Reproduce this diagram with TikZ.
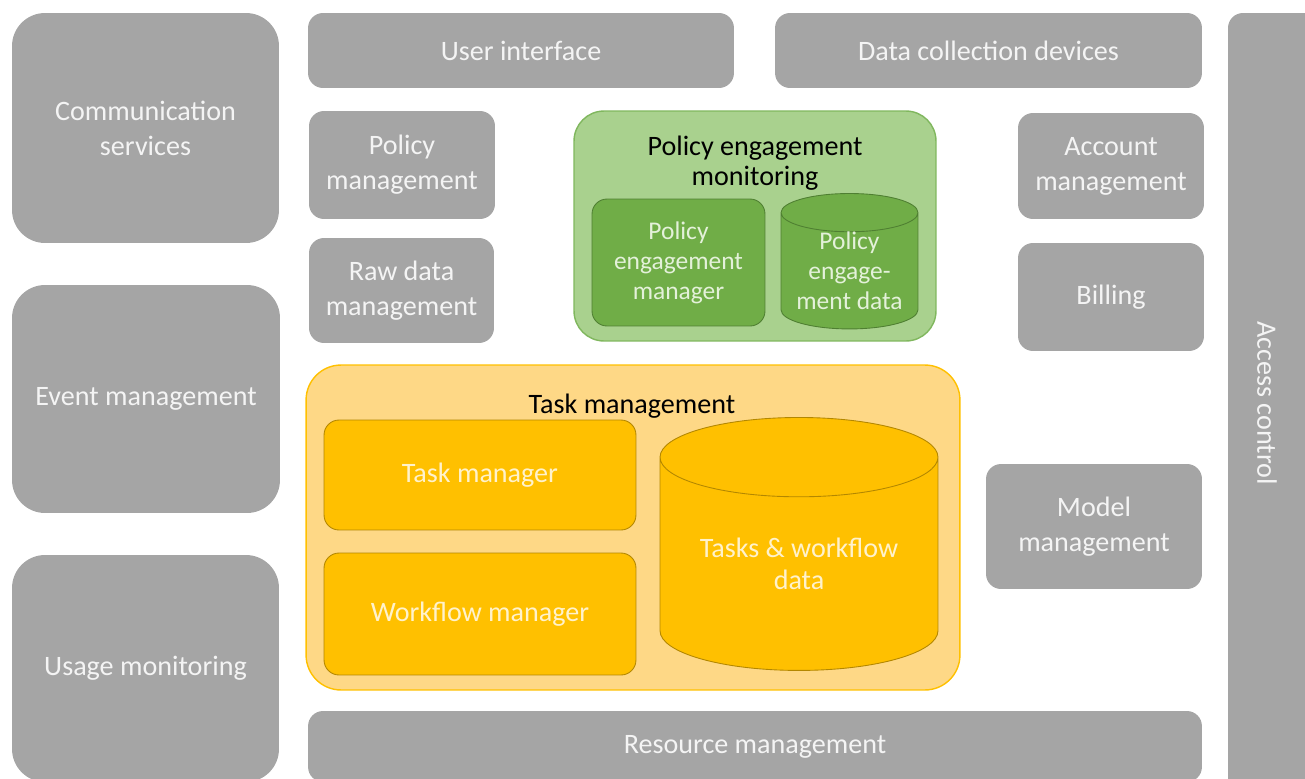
\documentclass[tikz,border=0pt]{standalone}
\usepackage{fontspec}
\setmainfont{Carlito}
\usepackage{xcolor}
\usetikzlibrary{shapes,shapes.geometric}

\definecolor{boxgray}{HTML}{A5A5A5}
\definecolor{txtlight}{HTML}{F4F4F4}
\definecolor{pelight}{HTML}{A9D18E}
\definecolor{peline}{HTML}{80B75E}
\definecolor{pedark}{HTML}{70AD47}
\definecolor{pedarkline}{HTML}{4F7F32}
\definecolor{petxt}{HTML}{E4F1DA}
\definecolor{tmlight}{HTML}{FED886}
\definecolor{tmline}{HTML}{FFC000}
\definecolor{tmdark}{HTML}{FFC000}
\definecolor{tmdarkline}{HTML}{B38700}
\definecolor{tmtxt}{HTML}{FFF2CC}

\begin{document}
\begin{tikzpicture}[x=0.02cm, y=-0.02cm,
		block/.style={draw=none, fill=boxgray, text=txtlight, align=center, inner sep=0pt,
			rounded corners=0.3cm, font=\fontsize{16}{19.8}\selectfont},
		bigblock/.style={block, rounded corners=0.66cm},
		peouter/.style={fill=pelight, draw=peline, line width=0.8pt, rounded corners=0.6cm, inner sep=0pt},
		peinner/.style={fill=pedark, draw=pedarkline, line width=0.5pt, rounded corners=0.3cm, inner sep=0pt,
			text=petxt, align=center, font=\fontsize{14.5}{17}\selectfont},
		tmouter/.style={fill=tmlight, draw=tmline, line width=0.8pt, rounded corners=0.7cm, inner sep=0pt},
		tminner/.style={fill=tmdark, draw=tmdarkline, line width=0.5pt, rounded corners=0.3cm, inner sep=0pt,
			text=tmtxt, align=center, font=\fontsize{16}{18.5}\selectfont},
		store/.style={cylinder, shape border rotate=90, inner sep=0pt},
		title/.style={align=center, inner sep=0pt, font=\fontsize{16}{17}\selectfont}]
	\useasboundingbox (0,0) rectangle (1305,778);
	\clip (0,0) rectangle (1305,778);

	% left column
	\node[bigblock, minimum width=5.34cm, minimum height=4.6cm] (comm) at (145.5,128) {Communication\\services};
	\node[bigblock, minimum width=5.36cm, minimum height=4.56cm] (event) at (146,399) {Event management};
	\node[bigblock, minimum width=5.34cm, minimum height=4.54cm] (usage) at (145.5,668.5) {Usage monitoring};

	% top row
	\node[block, minimum width=8.52cm, minimum height=1.5cm] (ui) at (521,50.5) {User interface};
	\node[block, minimum width=8.54cm, minimum height=1.5cm] (devices) at (988.5,50.5) {Data collection devices};

	% access control (runs off the page)
	\draw[fill=boxgray, draw=none, rounded corners=0.3cm] (1228,13) rectangle (1340,800);
	\node[text=txtlight, rotate=-90, font=\fontsize{16}{19.8}\selectfont] (access) at (1267,403) {Access control};

	% middle blocks
	\node[block, minimum width=3.72cm, minimum height=2.16cm] (polman) at (402,165) {Policy\\management};
	\node[block, minimum width=3.7cm, minimum height=2.1cm] (rawdata) at (401.5,290.5) {Raw data\\management};
	\node[block, minimum width=3.72cm, minimum height=2.12cm] (account) at (1111,166) {Account\\management};
	\node[block, minimum width=3.72cm, minimum height=2.16cm] (billing) at (1111,297) {Billing};
	\node[block, minimum width=4.32cm, minimum height=2.5cm] (model) at (1094,526.5) {Model\\management};
	\node[block, minimum width=17.88cm, minimum height=1.42cm] (resource) at (755,746.5) {Resource management};

	% policy engagement monitoring
	\node[peouter, minimum width=7.24cm, minimum height=4.6cm] (pem) at (755,226) {};
	\node[title] (pemtitle) at (755,163) {Policy engagement\\monitoring};
	\node[peinner, minimum width=3.46cm, minimum height=2.54cm] (pemgr) at (678.5,262.5) {Policy\\engagement\\manager};
	\node[store, fill=pedark, draw=pedarkline, line width=0.5pt, text=petxt, align=center,
		font=\fontsize{14.5}{17}\selectfont, minimum width=2.74cm, minimum height=2.42cm, aspect=0.36]
		(pedata) at (849.5,271) {Policy\\engage-\\ment data};

	% task management
	\node[tmouter, minimum width=13.08cm, minimum height=6.5cm] (tm) at (633,527.5) {};
	\node[title] (tmtitle) at (632,406) {Task management};
	\node[tminner, minimum width=6.24cm, minimum height=2.2cm] (taskmgr) at (480,475) {Task manager};
	\node[tminner, minimum width=6.24cm, minimum height=2.44cm] (wfmgr) at (480,614) {Workflow manager};
	\node[store, fill=tmdark, draw=tmdarkline, line width=0.5pt, text=tmtxt, align=center,
		font=\fontsize{16}{18.5}\selectfont, minimum width=5.56cm, minimum height=5.06cm, aspect=0.4]
		(twdata) at (799,564) {Tasks \& workflow\\data};
\end{tikzpicture}
\end{document}
